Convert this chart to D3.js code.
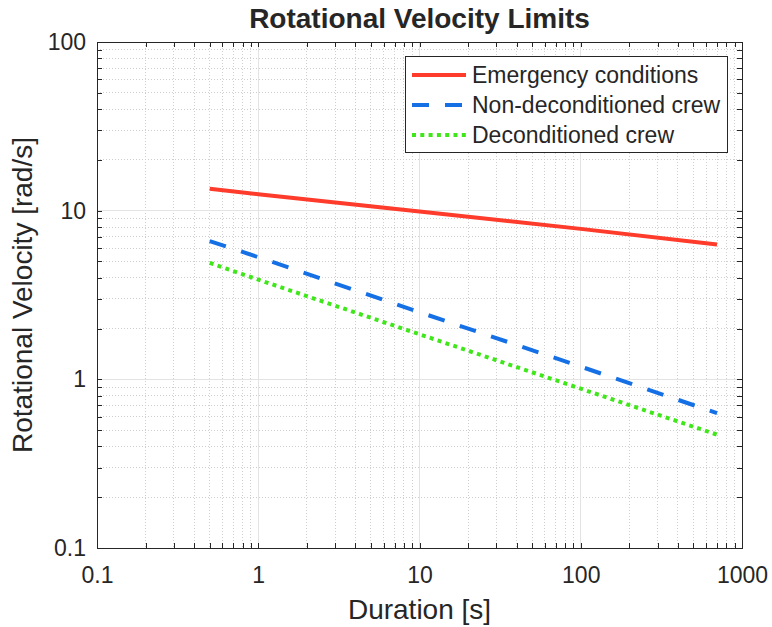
<!DOCTYPE html>
<html lang="en">
<head>
<meta charset="UTF-8">
<title>Rotational Velocity Limits</title>
<script src="https://d3js.org/d3.v7.min.js"></script>
<style>
  body { margin: 0; background: #fff; }
  text { font-family: "Liberation Sans", Arial, Helvetica, sans-serif; fill: #262626; }
  .axis path { display: none; }
  .axis line { stroke: #262626; shape-rendering: crispEdges; }
  .grid-major { stroke: #e3e3e3; stroke-width: 1; shape-rendering: crispEdges; }
  .grid-minor { stroke: #cfcfcf; stroke-width: 1; stroke-dasharray: 1 2; shape-rendering: crispEdges; }
  .series { fill: none; stroke-width: 4; }
</style>
</head>
<body>
<script>
  // tick values and labels
  var xTicks = [0.1, 1, 10, 100, 1000];
  var xTickLabels = ["0.1", "1", "10", "100", "1000"];
  var yTicks = [0.1, 1, 10, 100];
  var yTickLabels = ["0.1", "1", "10", "100"];

  // data (duration in s, velocity in rad/s)
  var duration = [0.5, 1, 10, 100, 700];
  var emergency = [13.5, 12.5, 9.9, 7.8, 6.3];
  var nonDeconditioned = [6.6, 5.3, 2.5, 1.19, 0.63];
  var deconditioned = [4.9, 3.9, 1.85, 0.88, 0.47];

  var seriesNames = ["Emergency conditions", "Non-deconditioned crew", "Deconditioned crew"];
  var seriesValues = [emergency, nonDeconditioned, deconditioned];
  var seriesColors = ["#ff3b2b", "#1570e6", "#3fe61a"];
  var seriesDash = [null, "17 16", "4 4.3"];

  var width = 772, height = 627;
  var plotL = 97, plotR = 742, plotT = 42, plotB = 548;

  var svg = d3.select("body").append("svg")
      .attr("width", width)
      .attr("height", height);

  var x = d3.scaleLog().domain([0.1, 1000]).range([plotL, plotR]);
  var y = d3.scaleLog().domain([0.1, 100]).range([plotB, plotT]);

  // minor tick positions (2..9 in each decade)
  function minors(lo, hi) {
    var out = [];
    for (var d = lo; d < hi; d *= 10) {
      for (var k = 2; k <= 9; k++) out.push(+(d * k).toPrecision(3));
    }
    return out;
  }
  var xMinor = minors(0.1, 1000);
  var yMinor = minors(0.1, 100);

  // grid
  var grid = svg.append("g");
  grid.selectAll(".gxm").data(xMinor).enter().append("line")
      .attr("class", "grid-minor")
      .attr("x1", d => x(d)).attr("x2", d => x(d))
      .attr("y1", plotT).attr("y2", plotB);
  grid.selectAll(".gym").data(yMinor).enter().append("line")
      .attr("class", "grid-minor")
      .attr("y1", d => y(d)).attr("y2", d => y(d))
      .attr("x1", plotL).attr("x2", plotR);
  grid.selectAll(".gx").data(xTicks).enter().append("line")
      .attr("class", "grid-major")
      .attr("x1", d => x(d)).attr("x2", d => x(d))
      .attr("y1", plotT).attr("y2", plotB);
  grid.selectAll(".gy").data(yTicks).enter().append("line")
      .attr("class", "grid-major")
      .attr("y1", d => y(d)).attr("y2", d => y(d))
      .attr("x1", plotL).attr("x2", plotR);

  // series lines
  var line = d3.line()
      .x(d => x(d[0]))
      .y(d => y(d[1]));

  seriesValues.forEach(function(vals, i) {
    svg.append("path")
        .datum(duration.map((t, j) => [t, vals[j]]))
        .attr("class", "series")
        .attr("stroke", seriesColors[i])
        .attr("stroke-dasharray", seriesDash[i])
        .attr("d", line);
  });

  // axes: ticks pointing inward on all four sides
  var tickLen = 5;
  function addAxis(axisFn, scale, values, labels, transform, cls) {
    var ax = axisFn(scale).tickValues(values).tickSizeInner(-tickLen).tickSizeOuter(0)
        .tickFormat(labels ? ((d, i) => labels[i]) : "");
    return svg.append("g").attr("class", "axis " + cls).attr("transform", transform).call(ax);
  }
  addAxis(d3.axisBottom, x, xTicks, xTickLabels, "translate(0," + plotB + ")", "x-main");
  addAxis(d3.axisBottom, x, xMinor, null, "translate(0," + plotB + ")", "");
  addAxis(d3.axisTop, x, xTicks, null, "translate(0," + plotT + ")", "");
  addAxis(d3.axisTop, x, xMinor, null, "translate(0," + plotT + ")", "");
  addAxis(d3.axisLeft, y, yTicks, yTickLabels, "translate(" + plotL + ",0)", "y-main");
  addAxis(d3.axisLeft, y, yMinor, null, "translate(" + plotL + ",0)", "");
  addAxis(d3.axisRight, y, yTicks, null, "translate(" + plotR + ",0)", "");
  addAxis(d3.axisRight, y, yMinor, null, "translate(" + plotR + ",0)", "");

  svg.selectAll(".axis text")
      .style("font-size", "23px")
      .attr("fill", "#262626");
  svg.selectAll(".x-main text")
      .attr("y", 19)
      .attr("dy", "0.71em");
  svg.selectAll(".y-main text")
      .attr("x", -11);

  // box
  svg.append("rect")
      .attr("x", plotL).attr("y", plotT)
      .attr("width", plotR - plotL).attr("height", plotB - plotT)
      .attr("fill", "none")
      .attr("stroke", "#262626")
      .attr("stroke-width", 1)
      .attr("shape-rendering", "crispEdges");

  // titles
  svg.append("text")
      .attr("x", (plotL + plotR) / 2).attr("y", 28)
      .attr("text-anchor", "middle")
      .style("font-size", "28px").style("font-weight", "bold")
      .attr("fill", "#000")
      .text("Rotational Velocity Limits");

  svg.append("text")
      .attr("x", (plotL + plotR) / 2).attr("y", 619)
      .attr("text-anchor", "middle")
      .style("font-size", "28px")
      .text("Duration [s]");

  svg.append("text")
      .attr("transform", "translate(32," + ((plotT + plotB) / 2) + ") rotate(-90)")
      .attr("text-anchor", "middle")
      .style("font-size", "28px")
      .text("Rotational Velocity [rad/s]");

  // legend
  var lg = svg.append("g");
  lg.append("rect")
      .attr("x", 405.5).attr("y", 56.5)
      .attr("width", 322).attr("height", 96)
      .attr("fill", "#fff")
      .attr("stroke", "#262626");
  seriesNames.forEach(function(name, i) {
    var ly = 75 + i * 30;
    lg.append("line")
        .attr("x1", 412).attr("x2", 466)
        .attr("y1", ly).attr("y2", ly)
        .attr("stroke", seriesColors[i])
        .attr("stroke-width", 4)
        .attr("stroke-dasharray", seriesDash[i]);
    lg.append("text")
        .attr("x", 472).attr("y", ly)
        .attr("dy", "0.35em")
        .style("font-size", "23px")
        .attr("fill", "#000")
        .text(name);
  });
</script>
</body>
</html>
